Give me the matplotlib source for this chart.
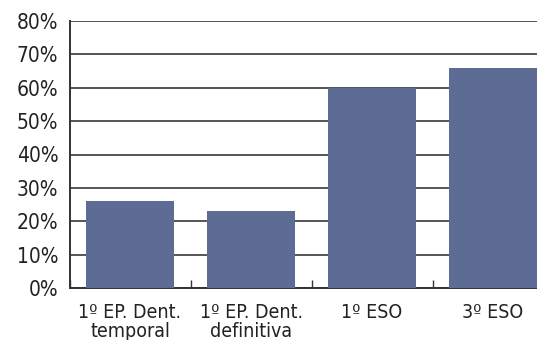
import matplotlib.pyplot as plt
import numpy as np
from matplotlib.ticker import FixedLocator

categories = ['1º EP. Dent.\ntemporal', '1º EP. Dent.\ndefinitiva', '1º ESO', '3º ESO']
values = [26, 23, 60, 66]
yticks = [0, 10, 20, 30, 40, 50, 60, 70, 80]

plt.rcParams['font.family'] = ['DejaVu Sans']
plt.rcParams['font.stretch'] = 'condensed'

fig = plt.figure(figsize=(5.37, 3.4), dpi=100)
# axes runs slightly past the right edge of the figure, like the original crop
W, H = 537, 340
left, right, top, bottom = 69.5, 553.5, 21, 288
ax = fig.add_axes([left / W, 1 - bottom / H, (right - left) / W, (bottom - top) / H])

x = np.arange(len(categories))
ax.bar(x, values, width=0.727, color='#5c6c94', zorder=3)

ax.set_xlim(-0.5, len(categories) - 0.5)
ax.set_ylim(0, 80)
ax.set_yticks(yticks)
ax.set_yticklabels([f'{v}%' for v in yticks], fontsize=15, color='#222222')
ax.set_xticks(x)
ax.set_xticklabels(categories, fontsize=14, color='#222222', linespacing=0.95)
ax.xaxis.set_minor_locator(FixedLocator(np.arange(-0.5, len(categories), 1)))

ax.tick_params(axis='x', which='major', length=0, pad=11)
ax.tick_params(axis='x', which='minor', direction='in', length=6, width=1, color='#333333')
ax.tick_params(axis='y', length=0, pad=8)

ax.yaxis.grid(True, color='#555555', linewidth=1.4, zorder=0)
ax.set_axisbelow(True)

for s in ['top', 'right']:
    ax.spines[s].set_visible(False)
for s in ['left', 'bottom']:
    ax.spines[s].set_color('#333333')
    ax.spines[s].set_linewidth(1.4)

fig.savefig('out.png', dpi=100)
